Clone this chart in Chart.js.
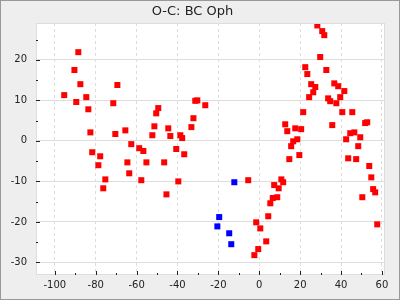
<!DOCTYPE html>
<html lang="en">
  <head>
    <meta charset="UTF-8" />
    <title>O-C: BC Oph</title>
    <script src="https://cdn.jsdelivr.net/npm/chart.js"></script>
    <style>
      body {
        margin: 0;
      }
      .chart-box {
        width: 400px;
        height: 300px;
      }
    </style>
  </head>
  <body>
    <div class="chart-box">
      <canvas id="myChart"></canvas>
    </div>
    <script>
      const redX = [
        -95.4, -90.4, -88.5, -89.5, -87.5, -84.6, -83.6, -82.6, -81.7, -78.7, -77.8, -76.3, -75.3, -71.4, -69.4, -70.4,
        -65.5, -64.5, -63.6, -62.6, -58.7, -57.7, -56.7, -55.2, -52.3, -51.3, -50.4, -49.4, -46.5, -45.4, -44.5, -43.5,
        -40.6, -39.6, -38.6, -37.7, -36.7, -33.2, -32.2, -31.3, -30.3, -26.4, -5.4, -2.4, -1.5, -0.5, 0.5, 3.4, 4.4, 5.4,
        6.6, 7.3, 8.8, 9.5, 10.8, 11.7, 12.7, 13.7, 14.7, 15.6, 16.6, 17.6, 18.6, 19.6, 20.5, 21.5, 22.5, 23.5, 24.4, 25.4,
        26.4, 27.4, 28.4, 29.8, 30.8, 31.8, 32.8, 33.7, 34.7, 35.7, 36.7, 37.7, 38.6, 39.6, 40.6, 41.6, 42.5, 43.5, 44.5,
        45.5, 46.5, 47.4, 48.4, 49.4, 50.4, 51.8, 52.8, 53.8, 54.8, 55.7, 56.7, 57.7,
      ];
      const redY = [
        11.3, 17.5, 21.9, 9.6, 14.0, 10.8, 7.8, 2.1, -2.8, -6.0, -3.8, -11.7, -9.5, 9.3, 13.8, 1.7, 2.6, -5.3, -8.0, -0.8,
        -1.8, -9.7, -2.5, -5.3, 1.4, 3.6, 6.8, 8.1, -5.3, -13.2, 3.1, 1.2, -2.0, -10.0, 1.4, 0.7, -3.3, 3.4, 5.6, 9.9, 10.0,
        8.8, -9.7, -28.2, -20.1, -26.7, -21.6, -24.8, -18.6, -15.4, -14.1, -10.9, -13.9, -11.7, -9.5, -10.2, 4.1, 2.4,
        -4.5, -1.3, -0.1, 3.1, 0.4, -3.5, 2.9, 7.1, 18.2, 16.5, 10.8, 14.0, 12.0, 13.3, 28.5, 20.7, 27.1, 26.1, 17.5, 10.5,
        9.8, 3.9, 14.2, 9.3, 13.5, 10.8, 7.1, 12.3, 0.4, -4.3, 1.9, 7.1, 2.1, -4.5, -1.3, 0.9, -13.9, 4.4, 4.6, -6.2, -9.0,
        -11.9, -12.7, -20.6,
      ];
      const blueX = [-20.5, -19.6, -14.7, -13.7, -12.2];
      const blueY = [-21.1, -18.8, -22.8, -25.5, -10.2];

      const toPoints = function (xs, ys) {
        return xs.map((x, i) => ({ x: x, y: ys[i] }));
      };

      const frame = {
        id: "frame",
        beforeDraw(chart) {
          const { ctx, chartArea: a } = chart;
          ctx.save();
          ctx.fillStyle = "#eeeeee";
          ctx.fillRect(0, 0, chart.width, chart.height);
          ctx.fillStyle = "#ffffff";
          ctx.fillRect(a.left, a.top, a.right - a.left, a.bottom - a.top);
          ctx.restore();
        },
        afterDraw(chart) {
          const { ctx, chartArea: a } = chart;
          const xs = chart.scales.x;
          const ys = chart.scales.y;
          ctx.save();
          ctx.strokeStyle = "#dddddd";
          ctx.lineWidth = 1;
          ctx.strokeRect(Math.round(a.left) + 0.5, Math.round(a.top) + 0.5, Math.round(a.right - a.left) - 1, Math.round(a.bottom - a.top) - 1);
          ctx.strokeStyle = "#999999";
          ctx.strokeRect(0.5, 0.5, chart.width - 1, chart.height - 1);
          // tick marks point into the plot, long on labelled values
          ctx.strokeStyle = "#222222";
          ctx.beginPath();
          xs.ticks.forEach((t) => {
            const px = Math.round(xs.getPixelForValue(t.value)) + 0.5;
            const len = t.value % 20 === 0 ? 4 : 2;
            ctx.moveTo(px, a.bottom);
            ctx.lineTo(px, a.bottom - len);
          });
          ys.ticks.forEach((t) => {
            const py = Math.round(ys.getPixelForValue(t.value)) + 0.5;
            const len = t.value % 10 === 0 ? 4 : 2;
            ctx.moveTo(a.left, py);
            ctx.lineTo(a.left + len, py);
          });
          ctx.stroke();
          ctx.restore();
        },
      };

      const ctx = document.getElementById("myChart");
      const myChart = new Chart(ctx, {
        type: "scatter",
        data: {
          datasets: [
            {
              label: "red",
              data: toPoints(redX, redY),
              backgroundColor: "#ff0000",
              borderWidth: 0,
              pointStyle: "rect",
              pointRadius: 4.25,
            },
            {
              label: "blue",
              data: toPoints(blueX, blueY),
              backgroundColor: "#0000ff",
              borderWidth: 0,
              pointStyle: "rect",
              pointRadius: 4.25,
            },
          ],
        },
        options: {
          responsive: true,
          maintainAspectRatio: false,
          animation: false,
          layout: { padding: { left: 0, right: 15, top: 0, bottom: 0 } },
          scales: {
            x: {
              min: -109.2,
              max: 61.5,
              afterFit: (scale) => {
                scale.height = 25;
              },
              ticks: {
                stepSize: 10,
                includeBounds: false,
                autoSkip: false,
                maxRotation: 0,
                padding: 4,
                color: "#222222",
                font: { family: "DejaVu Sans", size: 10 },
                callback: (v) => (v % 20 === 0 ? v : ""),
              },
              grid: {
                drawTicks: false,
                color: (c) => (c.tick && c.tick.value % 20 === 0 ? "#dddddd" : "rgba(0,0,0,0)"),
              },
              border: { display: false, dash: [3, 3] },
            },
            y: {
              min: -33.1,
              max: 29.1,
              afterFit: (scale) => {
                scale.width = 36;
              },
              ticks: {
                stepSize: 5,
                includeBounds: false,
                autoSkip: false,
                padding: 9,
                color: "#222222",
                font: { family: "DejaVu Sans", size: 10 },
                callback: (v) => (v % 10 === 0 ? v : ""),
              },
              grid: {
                drawTicks: false,
                color: (c) => (c.tick && c.tick.value % 10 === 0 ? "#dddddd" : "rgba(0,0,0,0)"),
              },
              border: { display: false },
            },
          },
          plugins: {
            legend: { display: false },
            tooltip: { enabled: false },
            title: {
              display: true,
              text: "O-C: BC Oph",
              color: "#222222",
              font: { family: "DejaVu Sans", size: 13, weight: "normal" },
              padding: { top: 4, bottom: 3.4 },
            },
          },
        },
        plugins: [frame],
      });
    </script>
  </body>
</html>
